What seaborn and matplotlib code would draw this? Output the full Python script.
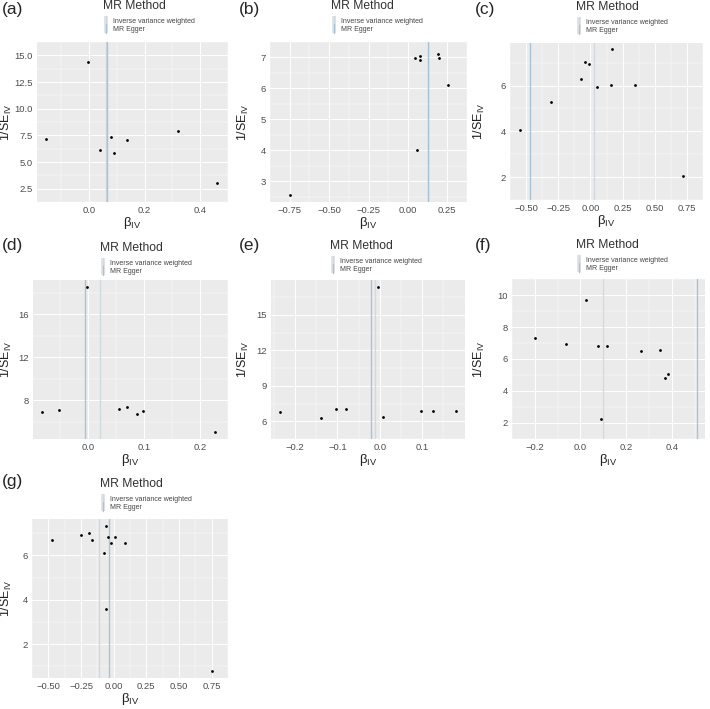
import numpy as np
import matplotlib
matplotlib.use("Agg")
import matplotlib.pyplot as plt
import seaborn as sns
from matplotlib.lines import Line2D
from matplotlib.patches import Rectangle
from matplotlib.legend_handler import HandlerBase

# values: beta_IV and 1/SE_IV per SNP
beta_a = [-0.156, -0.003, 0.040, 0.080, 0.090, 0.135, 0.320, 0.462]
invse_a = [7.12, 14.40, 6.15, 7.35, 5.80, 7.10, 7.95, 3.02]
beta_b = [-0.750, 0.045, 0.075, 0.075, 0.060, 0.190, 0.200, 0.255]
invse_b = [2.56, 6.97, 7.05, 6.93, 4.00, 7.10, 6.97, 6.12]
beta_c = [-0.550, -0.310, -0.070, -0.040, -0.010, 0.050, 0.160, 0.170, 0.350, 0.720]
invse_c = [4.07, 5.30, 6.28, 7.03, 6.93, 5.92, 6.02, 7.58, 6.02, 2.05]
beta_d = [-0.082, -0.052, -0.002, 0.056, 0.070, 0.088, 0.098, 0.227]
invse_d = [6.85, 7.10, 18.50, 7.15, 7.40, 6.75, 6.95, 5.05]
beta_e = [-0.236, -0.138, -0.103, -0.080, -0.005, 0.008, 0.097, 0.125, 0.180]
invse_e = [6.80, 6.25, 7.03, 7.00, 17.40, 6.38, 6.83, 6.85, 6.85]
beta_f = [-0.200, -0.065, 0.025, 0.078, 0.090, 0.115, 0.265, 0.350, 0.370, 0.382]
invse_f = [7.32, 6.92, 9.69, 6.80, 2.27, 6.82, 6.52, 6.57, 4.81, 5.07]
beta_g = [-0.471, -0.252, -0.192, -0.163, -0.072, -0.060, -0.062, -0.045, -0.018, 0.011, 0.083, 0.756]
invse_g = [6.68, 6.90, 7.01, 6.71, 6.11, 7.31, 3.60, 6.83, 6.57, 6.83, 6.56, 0.80]

# MR estimates (vertical lines)
ivw = [0.062, 0.128, 0.030, 0.022, -0.011, 0.100, -0.112]
egger = [0.064, 0.130, -0.470, -0.004, -0.021, 0.510, -0.035]

panel_labels = ["(a)", "(b)", "(c)", "(d)", "(e)", "(f)", "(g)"]
method_labels = ["Inverse variance weighted", "MR Egger"]

xticks = [[0.0, 0.2, 0.4],
          [-0.75, -0.50, -0.25, 0.00, 0.25],
          [-0.50, -0.25, 0.00, 0.25, 0.50, 0.75],
          [0.0, 0.1, 0.2],
          [-0.2, -0.1, 0.0, 0.1],
          [-0.2, 0.0, 0.2, 0.4],
          [-0.50, -0.25, 0.00, 0.25, 0.50, 0.75]]
yticks = [[2.5, 5.0, 7.5, 10.0, 12.5, 15.0],
          [3, 4, 5, 6, 7],
          [2, 4, 6],
          [8, 12, 16],
          [6, 9, 12, 15],
          [2, 4, 6, 8, 10],
          [2, 4, 6]]
xdec = [1, 2, 2, 1, 1, 1, 2]
ydec = [1, 0, 0, 0, 0, 0, 0]

betas = [beta_a, beta_b, beta_c, beta_d, beta_e, beta_f, beta_g]
invses = [invse_a, invse_b, invse_c, invse_d, invse_e, invse_f, invse_g]

# layout in pixels: plot box (left, right, top, bottom), panel origin
boxes = [(37, 228, 42, 202, 0, 0), (270, 467, 42, 202, 237, 0), (510, 703, 43, 200, 473, 0),
         (33, 228, 280, 439, 0, 236), (271, 465, 280, 439, 237, 236), (512, 705, 279, 439, 473, 236),
         (32, 228, 519, 678, 0, 472)]
title_x = [103, 94, 103, 100, 93, 103, 100]      # relative to panel origin
title_y = [6, 6, 7, 12, 10, 9, 12]

ivw_col = "#cfd9e0"
egger_col = "#a7c3d8"

sns.set_theme(style="darkgrid", rc={"axes.facecolor": "#EBEBEB", "grid.color": "white"})
plt.rcParams["font.family"] = ["Liberation Sans", "DejaVu Sans"]
plt.rcParams["mathtext.fontset"] = "custom"
plt.rcParams["mathtext.rm"] = "Liberation Sans"

W, H = 710, 709
fig = plt.figure(figsize=(7.1, 7.09), dpi=100)


class VLineKey(HandlerBase):
    def create_artists(self, legend, orig_handle, xdescent, ydescent, width, height, fontsize, trans):
        bg = Rectangle((-xdescent, -ydescent - 1), width, height + 2, facecolor="#e4e4e4",
                       edgecolor="none", transform=trans)
        ln = Line2D([width / 2 - xdescent] * 2, [-ydescent - 1, height - ydescent + 1],
                    color=orig_handle.get_color(), lw=orig_handle.get_linewidth(), transform=trans)
        return [bg, ln]


def fmt(v, d):
    return f"{v:.{d}f}".replace("-", "\u2212")


for i in range(7):
    l, r, t, b, ox, oy = boxes[i]
    ax = fig.add_axes([l / W, 1 - b / H, (r - l) / W, (b - t) / H])
    sns.scatterplot(x=betas[i], y=invses[i], ax=ax, color="black", s=4, linewidth=0, zorder=3)
    ax.axvline(ivw[i], color=ivw_col, lw=1.0, zorder=2)
    ax.axvline(egger[i], color=egger_col, lw=1.0, zorder=2)

    xt, yt = xticks[i], yticks[i]
    ax.set_xticks(xt)
    ax.set_xticklabels([fmt(v, xdec[i]) for v in xt])
    ax.set_yticks(yt)
    ax.set_yticklabels([fmt(v, ydec[i]) for v in yt])
    xs, ys = xt[1] - xt[0], yt[1] - yt[0]
    ax.set_xticks(np.arange(xt[0] - xs / 2, xt[-1] + xs, xs), minor=True)
    ax.set_yticks(np.arange(yt[0] - ys / 2, yt[-1] + ys, ys), minor=True)
    ax.grid(which="major", color="white", lw=0.7)
    ax.grid(which="minor", color="white", lw=0.35)
    ax.tick_params(which="major", length=2, width=0.5, color="#333333", labelsize=6.8,
                   labelcolor="#4d4d4d", pad=1)
    ax.tick_params(which="minor", length=0)
    for s in ax.spines.values():
        s.set_visible(False)
    ax.set_xlabel("\u03b2$_{\\mathregular{IV}}$", fontsize=9.5, color="#222222")
    ax.set_ylabel("1/SE$_{\\mathregular{IV}}$", fontsize=9, color="#222222")
    ax.xaxis.set_label_coords((l + r) / 2 / W, 1 - (b + 13) / H, transform=fig.transFigure)
    ax.yaxis.set_label_coords((ox + 14) / W, 1 - (t + b) / 2 / H, transform=fig.transFigure)

    fig.text((ox + 2) / W, 1 - (oy + 2) / H, panel_labels[i], fontsize=12.5, ha="left", va="top")

    tx, ty = ox + title_x[i], oy + title_y[i]
    fig.text(tx / W, 1 - ty / H, "MR Method", fontsize=8.7, color="#333333", ha="left", va="center")

    handles = [Line2D([], [], color=ivw_col, lw=1.0), Line2D([], [], color=egger_col, lw=1.0)]
    leg = ax.legend(handles, method_labels, loc="upper left",
                    bbox_to_anchor=((tx + 1) / W, 1 - (ty + 11) / H), bbox_transform=fig.transFigure,
                    frameon=False, fontsize=5,
                    handlelength=0.6, handleheight=1.1, handletextpad=0.7, labelspacing=0.1,
                    borderpad=0, borderaxespad=0,
                    handler_map={Line2D: VLineKey()})
    for txt in leg.get_texts():
        txt.set_color("#444444")

fig.savefig("out.png", dpi=100)
